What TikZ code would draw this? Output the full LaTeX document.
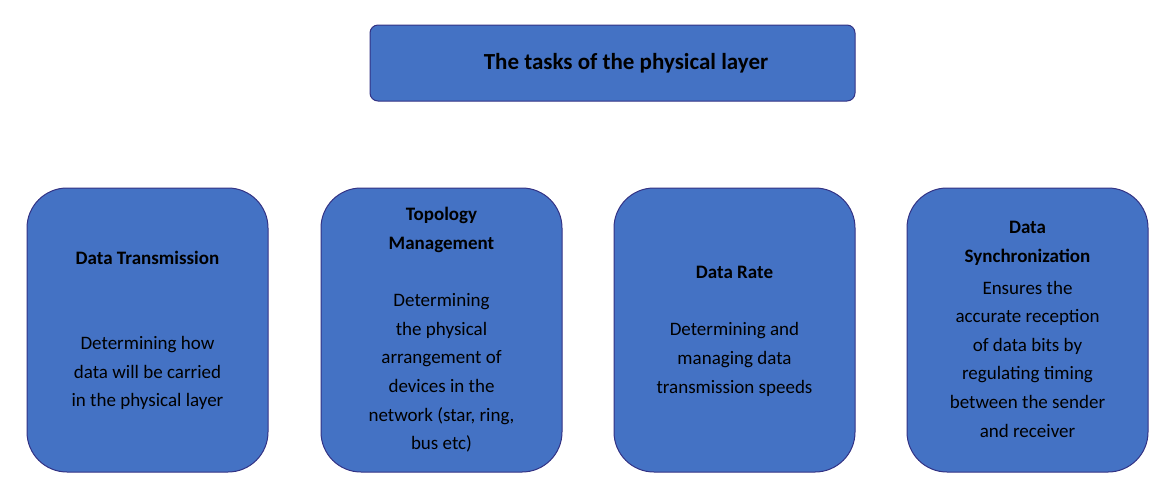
\documentclass[tikz,border=0pt]{standalone}
\usepackage{fontspec}
\setmainfont{Carlito}
\begin{document}
\begin{tikzpicture}[x=1pt,y=-1pt,
  box/.style={draw=blue!40!black!80, line width=1pt, fill={rgb,255:red,68;green,114;blue,196}, rounded corners=40pt, minimum width=241pt, minimum height=284pt, inner sep=0pt},
  ttl/.style={font=\fontsize{19}{29}\selectfont\bfseries, align=center},
  bdy/.style={font=\fontsize{19}{28.6}\selectfont, align=center}]
\useasboundingbox (0,0) rectangle (1166,499);
\node[box, rounded corners=8pt, minimum width=485pt, minimum height=76pt] (top) at (612.5,63) {};
\node[font=\fontsize{23}{28}\selectfont\bfseries] (tt) at (626,63) {The tasks of the physical layer};
\node[box] (b1) at (147.5,330) {};
\node[box] (b2) at (441.5,330) {};
\node[box] (b3) at (734.5,330) {};
\node[box] (b4) at (1027.5,330) {};
\node[ttl] (t1) at (147.5,258) {Data Transmission};
\node[bdy] (d1) at (147.5,373) {Determining how\\data will be carried\\in the physical layer};
\node[ttl] (t2) at (441.5,229.5) {Topology\\Management};
\node[bdy] (d2) at (441.5,373) {Determining\\the physical\\arrangement of\\devices in the\\network (star, ring,\\bus etc)};
\node[ttl] (t3) at (734.5,272) {Data Rate};
\node[bdy] (d3) at (734.5,359.5) {Determining and\\managing data\\transmission speeds};
\node[ttl] (t4) at (1027.5,243.5) {Data\\Synchronization};
\node[bdy] (d4) at (1027.5,359) {Ensures the\\accurate reception\\of data bits by\\regulating timing\\between the sender\\and receiver};
\end{tikzpicture}
\end{document}
